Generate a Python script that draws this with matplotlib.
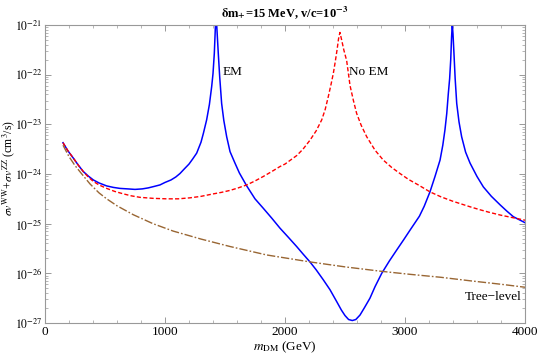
import numpy as np
import matplotlib
matplotlib.use("Agg")
import matplotlib.pyplot as plt
from matplotlib.ticker import FixedLocator, MultipleLocator, NullFormatter, FuncFormatter

plt.rcParams['font.family'] = ['Liberation Serif', 'DejaVu Serif']
plt.rcParams['mathtext.fontset'] = 'stix'

# Values, given as log10 of sigma*v (cm^3/s)
# EM (blue, solid)
m_em = [150, 190, 236, 280, 319, 360, 403, 450, 514, 570, 625, 690, 750, 810, 860, 910,
        958, 1000, 1050, 1090, 1125, 1160, 1200, 1230, 1264, 1300, 1320, 1347, 1370, 1389,
        1400, 1411, 1418, 1425, 1432, 1444, 1456, 1472, 1490, 1514, 1542, 1583, 1620, 1681,
        1750, 1819, 1890, 1958, 2030, 2097, 2150, 2208, 2260, 2319, 2375, 2431, 2470, 2500,
        2530, 2561, 2590, 2625, 2660, 2708, 2750, 2806, 2870, 2931, 2990, 3042, 3120, 3160,
        3208, 3250, 3292, 3315, 3333, 3348, 3361, 3372, 3381, 3388, 3394, 3400, 3408, 3418,
        3431, 3450, 3472, 3505, 3542, 3600, 3653, 3720, 3792, 3850, 3903, 4000]
log_sv_em = [-23.37, -23.53, -23.68, -23.83, -23.95, -24.04, -24.12, -24.18, -24.24, -24.27,
             -24.29, -24.30, -24.31, -24.30, -24.28, -24.25, -24.22, -24.17, -24.12, -24.06,
             -23.99, -23.90, -23.80, -23.70, -23.58, -23.36, -23.18, -22.91, -22.60, -22.24,
             -21.98, -21.57, -21.15, -20.70, -21.05, -21.57, -22.05, -22.58, -22.92, -23.25,
             -23.55, -23.78, -23.98, -24.24, -24.50, -24.69, -24.89, -25.09, -25.28, -25.46,
             -25.61, -25.77, -25.93, -26.13, -26.33, -26.57, -26.74, -26.85, -26.93, -26.95,
             -26.93, -26.84, -26.70, -26.50, -26.27, -26.00, -25.75, -25.53, -25.32, -25.13,
             -24.85, -24.65, -24.36, -24.05, -23.72, -23.42, -23.11, -22.78, -22.38, -22.08,
             -21.70, -21.25, -20.98, -21.18, -21.57, -22.08, -22.58, -22.95, -23.25, -23.56,
             -23.78, -24.05, -24.26, -24.45, -24.62, -24.75, -24.86, -24.98]

# No EM (red, dashed)
m_noem = [150, 190, 236, 280, 319, 360, 403, 450, 514, 580, 653, 720, 792, 900, 1014, 1110,
          1208, 1300, 1403, 1470, 1542, 1610, 1681, 1750, 1819, 1890, 1958, 2000, 2097, 2150,
          2208, 2260, 2306, 2335, 2361, 2385, 2403, 2420, 2435, 2446, 2458, 2472, 2490, 2514,
          2542, 2570, 2597, 2635, 2681, 2750, 2819, 2890, 2958, 3030, 3111, 3208, 3300, 3400,
          3542, 3625, 3700, 3800, 3900, 4000]
log_sv_noem = [-23.37, -23.53, -23.68, -23.83, -23.95, -24.06, -24.15, -24.22, -24.29,
               -24.35, -24.40, -24.44, -24.47, -24.49, -24.50, -24.50, -24.48, -24.45, -24.40,
               -24.37, -24.33, -24.28, -24.22, -24.14, -24.05, -23.95, -23.85, -23.80, -23.63,
               -23.50, -23.32, -23.13, -22.91, -22.70, -22.44, -22.18, -21.97, -21.72, -21.48,
               -21.28, -21.15, -21.30, -21.50, -21.72, -22.22, -22.52, -22.78, -23.02, -23.25,
               -23.52, -23.72, -23.87, -23.99, -24.11, -24.22, -24.36, -24.46, -24.55, -24.66,
               -24.72, -24.77, -24.83, -24.88, -24.93]

# Tree-level (brown, dash-dot)
m_tree = [150, 200, 250, 300, 375, 450, 514, 600, 736, 900, 1069, 1300, 1542, 1847, 2208,
          2500, 2806, 3042, 3300, 3542, 3800, 4000]
log_sv_tree = [-23.42, -23.65, -23.83, -23.98, -24.20, -24.38, -24.50, -24.64, -24.82,
               -25.00, -25.15, -25.31, -25.46, -25.63, -25.77, -25.87, -25.96, -26.02,
               -26.08, -26.15, -26.22, -26.28]

# axis tick exponents
y_decades = [-27, -26, -25, -24, -23, -22, -21]
x_ticks = [0, 1000, 2000, 3000, 4000]

sv_em = np.power(10.0, log_sv_em)
sv_noem = np.power(10.0, log_sv_noem)
sv_tree = np.power(10.0, log_sv_tree)

fig = plt.figure(figsize=(5.4, 3.56), dpi=100)
ax = fig.add_axes([45/540, 1-323/356, 480/540, 298/356])

ax.plot(m_em, sv_em, color='#0000ff', lw=1.1, solid_joinstyle='round')
ax.plot(m_noem, sv_noem, color='#ff0000', lw=1.0, ls=(0, (3, 1.6)))
ax.plot(m_tree, sv_tree, color='#996633', lw=1.0, ls=(0, (6, 1.5, 1.2, 1.5)))

ax.set_yscale('log')
ax.set_xlim(0, 4000)
ax.set_ylim(1e-27, 1e-21)

ax.xaxis.set_major_locator(FixedLocator(x_ticks))
ax.xaxis.set_minor_locator(FixedLocator([v for v in range(0, 4001, 200) if v % 1000]))
major_y = [10.0 ** d for d in y_decades]
minor_y = [k * 10.0 ** d for d in y_decades[:-1] for k in range(2, 10)]
ax.yaxis.set_major_locator(FixedLocator(major_y))
ax.yaxis.set_minor_locator(FixedLocator(minor_y))
ax.yaxis.set_minor_formatter(NullFormatter())
ax.yaxis.set_major_formatter(FuncFormatter(lambda v, p: r'$10^{%d}$' % int(round(np.log10(v)))))

gray = '#999999'
for s in ax.spines.values():
    s.set_color(gray)
    s.set_linewidth(0.8)
ax.tick_params(which='both', direction='in', top=True, right=True, color=gray, pad=2)
ax.tick_params(axis='x', labelsize=9.5)
ax.tick_params(axis='y', labelsize=8.5)
ax.tick_params(which='major', length=4, width=0.7)
ax.tick_params(which='minor', length=2, width=0.5)

ax.set_title(r'$\mathbf{\delta m_{+}}$=15 MeV, v/c=10$^{\mathbf{-3}}$', fontsize=9, fontweight='bold', pad=6)
ax.set_xlabel(r'$m_{\mathrm{DM}}$ (GeV)', fontsize=9.5, labelpad=1)
ax.set_ylabel(r'$\sigma v^{\mathrm{WW}}$+$\sigma v^{\mathrm{ZZ}}$ (cm$^3$/s)', fontsize=8.5)
ax.yaxis.set_label_coords(-0.058, 0.52)

ax.text(1480, 1.15e-22, 'EM', fontsize=9.5, ha='left', va='center')
ax.text(2530, 1.15e-22, 'No EM', fontsize=9.5, ha='left', va='center')
ax.text(3975, 3.4e-27, 'Tree\u2212level', fontsize=9.5, ha='right', va='center')

fig.savefig('out.png', dpi=100)
